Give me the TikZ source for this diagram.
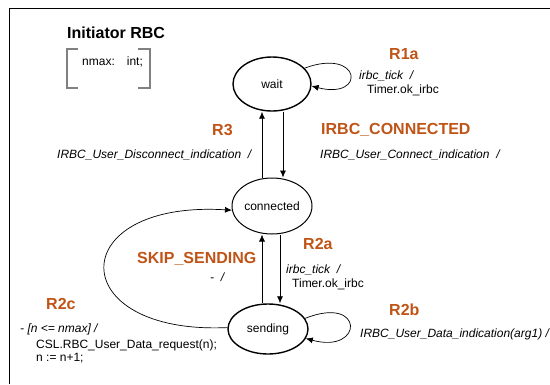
\documentclass[tikz,border=0pt]{standalone}
\usepackage{fontspec}
\setmainfont{Liberation Sans}
\usetikzlibrary{shapes.geometric,arrows.meta}
\definecolor{rulered}{RGB}{192,84,22}
\tikzset{
  stnode/.style={ellipse, draw, line width=1.4pt, minimum width=80pt, minimum height=52pt, inner sep=0pt, font=\fontsize{12}{14}\selectfont},
  rulename/.style={anchor=west, inner sep=0pt, text=rulered, font=\bfseries\fontsize{16}{18}\selectfont},
  trlabel/.style={anchor=west, inner sep=0pt, font=\fontsize{12}{14}\selectfont},
  tr/.style={line width=0.7pt, -{Latex[length=7pt,width=6pt]}},
}

\begin{document}
\begin{tikzpicture}[x=1pt, y=-1pt]
        \useasboundingbox (0,0) rectangle (550,384);
        \draw[line width=0.8pt] (9,384) -- (9,8) -- (550,8);

        % declaration block
        \node[anchor=west, inner sep=0pt, font=\bfseries\fontsize{16}{18}\selectfont] (title) at (67,33) {Initiator RBC};
        \draw[gray, line width=1.5pt] (78,49) -- (67,49) -- (67,88) -- (78,88);
        \draw[gray, line width=1.5pt] (138,49) -- (150,49) -- (150,88) -- (138,88);
        \node[trlabel] (decl) at (82,62) {nmax:\hspace{12pt}int;};

        % states
        \node[stnode, minimum width=78pt, minimum height=54pt] (wait) at (272,84) {wait};
        \node[stnode, line width=1pt, minimum height=56pt] (connected) at (272,206) {connected};
        \node[stnode, minimum height=50pt] (sending) at (268,329) {sending};

        % transitions
        \draw[tr] ([xshift=11pt]wait.south) -- ([xshift=11pt]connected.north);
        \draw[tr] ([xshift=-10pt]connected.north) -- ([xshift=-10pt]wait.south);
        \draw[tr] ([xshift=8pt]connected.south) -- ([xshift=8pt]connected.south |- sending.north);
        \draw[tr] ([xshift=-6pt]sending.north) -- ([xshift=-6pt]sending.north |- connected.south);
        \draw[tr] (wait.26) .. controls +(57,-21) and +(55,14) .. (wait.-3);
        \draw[tr] (sending.16) .. controls +(60,-24) and +(58,16) .. (sending.-14);
        \draw[tr] (sending.178) .. controls (63,335) and (63,200) .. (connected.186);

        % rule labels
        \node[rulename] (r1a) at (389,54) {R1a};
        \node[trlabel] (r1at) at (359,76) {\textit{irbc\_tick\ \ /}};
        \node[trlabel] (r1aa) at (367,90) {Timer.ok\_irbc};

        \node[rulename] (r3) at (212,130) {R3};
        \node[trlabel] (r3t) at (57,155) {\textit{IRBC\_User\_Disconnect\_indication\ \ /}};

        \node[rulename] (rcon) at (321,130) {IRBC\_CONNECTED};
        \node[trlabel] (rcont) at (320,155) {\textit{IRBC\_User\_Connect\_indication\ \ /}};

        \node[rulename] (r2a) at (303,244) {R2a};
        \node[trlabel] (r2at) at (286,270) {\textit{irbc\_tick\ \ /}};
        \node[trlabel] (r2aa) at (292,284) {Timer.ok\_irbc};

        \node[rulename] (rskip) at (137,259) {SKIP\_SENDING};
        \node[trlabel] (rskipt) at (210,277) {\textit{-\ \ /}};

        \node[rulename] (r2b) at (389,310) {R2b};
        \node[trlabel] (r2bt) at (360,334) {\textit{IRBC\_User\_Data\_indication(arg1) /}};

        \node[rulename] (r2c) at (46,304) {R2c};
        \node[trlabel] (r2ct) at (20,329) {\textit{- [n <= nmax] /}};
        \node[trlabel] (r2ca) at (36,345) {CSL.RBC\_User\_Data\_request(n);};
        \node[trlabel] (r2cb) at (36,358) {n := n+1;};
    \end{tikzpicture}
\end{document}
